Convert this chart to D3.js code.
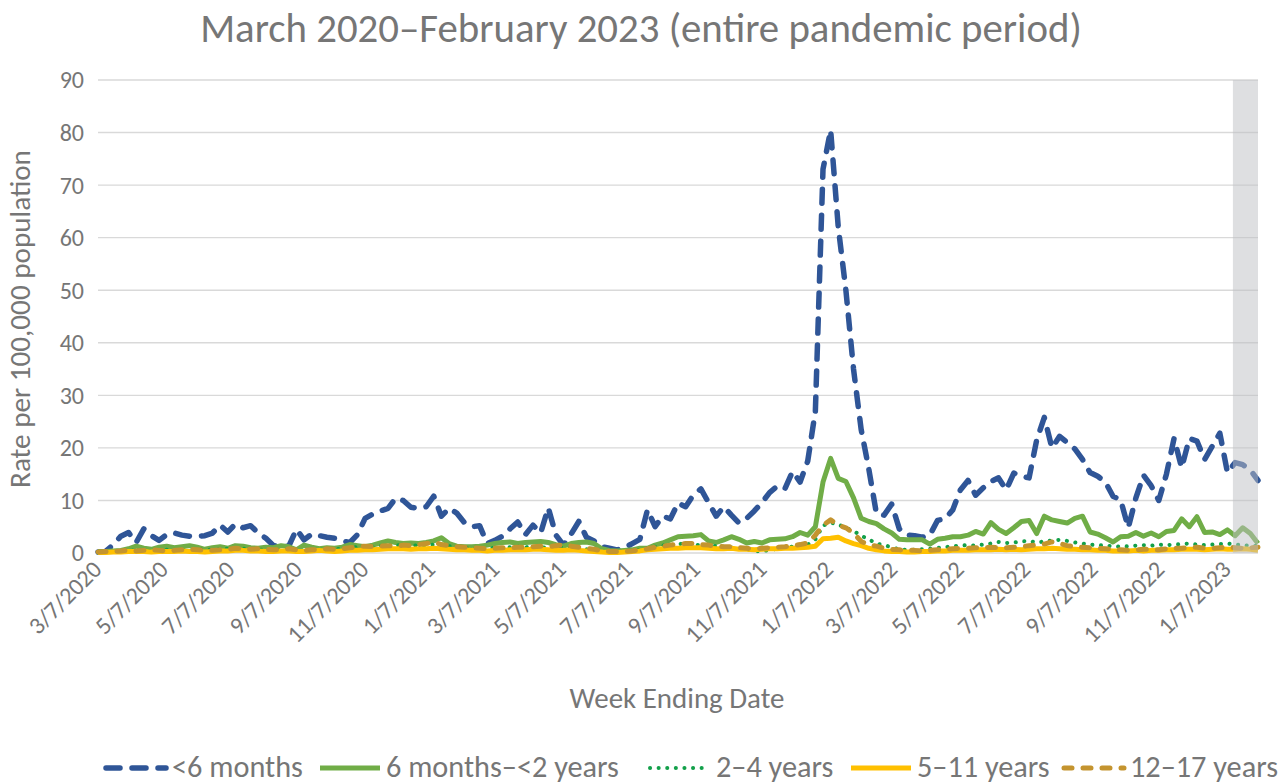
<!DOCTYPE html>
<html>
<head>
<meta charset="utf-8">
<script src="https://cdn.jsdelivr.net/npm/d3@7"></script>
<style>
  body { margin: 0; background: #fff; }
  svg { display: block; }
</style>
</head>
<body>
<div id="chart"></div>
<script>
// weekly rates per 100,000, week ending 3/7/2020 onward
var under6mo = [
  0.2, 0.3, 1.6, 3.2, 3.9, 2.0, 4.6, 3.3, 2.4, 3.5,
  3.8, 3.4, 3.2, 3.2, 3.3, 3.8, 5.3, 4.0, 5.5, 4.8,
  5.2, 3.8, 2.8, 1.4, 1.3, 1.3, 4.5, 2.5, 3.6, 3.3,
  3.0, 2.8, 2.3, 2.0, 3.5, 6.6, 7.4, 8.0, 8.5, 10.4,
  10.0, 8.7, 8.5, 8.8, 10.8, 7.0, 8.5, 7.6, 5.8, 5.0,
  5.2, 1.8, 2.4, 3.2, 4.6, 5.9, 3.5, 5.3, 3.8, 8.6,
  3.4, 1.5, 3.6, 6.0, 3.0, 2.3, 1.2, 0.9, 0.6, 1.0,
  1.8, 2.6, 8.2, 5.0, 7.0, 6.5, 9.5, 8.8, 11.0, 12.2,
  9.6, 7.0, 8.8, 7.2, 5.7, 6.6, 8.0, 9.6, 11.5, 12.7,
  12.2, 15.5, 13.5, 17.5, 27.0, 73.0, 80.5, 62.0, 50.0, 35.0,
  23.5, 16.0, 7.5, 7.2, 9.3, 4.6, 3.4, 3.3, 3.0, 3.4,
  6.2, 6.5, 8.2, 12.0, 13.8, 11.0, 12.4, 13.6, 14.3, 12.0,
  15.2, 14.6, 14.3, 21.5, 25.8, 20.0, 22.2, 21.0, 19.8, 17.8,
  15.3, 14.6, 13.5, 10.8, 10.1, 4.8, 10.5, 14.8, 12.8, 10.0,
  15.0, 21.8, 16.2, 21.8, 21.3, 17.8, 20.3, 22.8, 15.3, 17.2,
  16.8, 15.8, 13.8
];
var sixMoTo2y = [
  0.3, 0.3, 0.4, 0.5, 0.8, 1.3, 0.9, 0.7, 1.1, 1.3,
  1.0, 1.2, 1.4, 1.1, 0.7, 1.0, 1.2, 0.9, 1.4, 1.3,
  1.0, 0.9, 1.1, 1.0, 1.4, 1.2, 0.6, 1.5, 1.1, 0.8,
  1.0, 0.9, 1.1, 1.6, 1.4, 1.2, 1.5, 1.9, 2.3, 2.0,
  1.8, 1.9, 1.8, 2.0, 2.3, 2.9, 1.8, 1.3, 1.2, 1.2,
  1.3, 1.5, 1.8, 2.0, 2.1, 1.8, 2.0, 2.1, 2.2, 2.0,
  1.6, 1.3, 1.8, 2.0, 2.1, 1.8, 0.8, 0.5, 0.4, 0.5,
  0.6, 0.9, 0.9, 1.5, 1.9, 2.5, 3.1, 3.2, 3.3, 3.5,
  2.3, 2.0, 2.5, 3.1, 2.6, 1.9, 2.2, 1.9, 2.5, 2.6,
  2.7, 3.1, 3.9, 3.4, 5.0, 13.5, 18.0, 14.2, 13.6, 10.5,
  6.6, 6.0, 5.6, 4.6, 3.8, 2.6, 2.5, 2.5, 2.5, 1.7,
  2.6, 2.8, 3.1, 3.1, 3.4, 4.1, 3.6, 5.8, 4.5, 3.7,
  4.8, 6.0, 6.2, 3.7, 7.0, 6.3, 6.0, 5.7, 6.6, 7.0,
  4.0, 3.6, 2.9, 2.1, 3.1, 3.2, 3.9, 3.2, 3.8, 3.1,
  4.1, 4.3, 6.5, 5.0, 6.9, 3.9, 4.0, 3.5, 4.4, 3.3,
  4.8, 3.7, 1.8
];
var twoTo4y = [
  0.1, 0.2, 0.2, 0.3, 0.4, 0.5, 0.4, 0.4, 0.5, 0.6,
  0.5, 0.5, 0.6, 0.7, 0.6, 0.6, 0.7, 0.8, 0.9, 0.8,
  0.7, 0.6, 0.6, 0.5, 0.6, 0.7, 0.5, 0.4, 0.5, 0.6,
  0.6, 0.7, 0.8, 1.0, 1.1, 1.2, 1.1, 1.3, 1.4, 1.5,
  1.4, 1.3, 1.5, 1.4, 1.6, 1.5, 1.3, 1.1, 1.0, 0.9,
  0.8, 0.9, 1.0, 1.0, 1.1, 1.2, 1.1, 1.2, 1.1, 1.0,
  1.1, 1.0, 0.9, 0.8, 0.7, 0.5, 0.3, 0.2, 0.2, 0.3,
  0.4, 0.6, 0.9, 1.2, 1.4, 1.5, 1.7, 1.8, 1.6, 1.5,
  1.4, 1.3, 1.2, 1.0, 0.8, 0.7, 0.4, 0.3, 0.6, 0.8,
  1.0, 1.2, 1.4, 1.6, 2.6, 5.2, 5.8, 5.4, 4.8, 4.2,
  3.3, 2.6, 1.8, 1.5, 1.1, 0.7, 0.6, 0.6, 0.7, 0.8,
  1.0, 1.1, 1.3, 1.4, 1.5, 1.4, 1.6, 1.8, 2.1, 1.9,
  2.0, 2.2, 2.3, 2.0, 2.2, 2.4, 2.5, 2.3, 2.0, 1.8,
  1.6, 1.5, 1.4, 1.3, 1.2, 1.3, 1.4, 1.5, 1.4, 1.6,
  1.5, 1.6, 1.7, 1.8, 1.6, 1.5, 1.6, 1.7, 1.8, 1.6,
  1.5, 1.4, 1.3
];
var fiveTo11y = [
  0.1, 0.1, 0.2, 0.2, 0.3, 0.3, 0.3, 0.2, 0.3, 0.3,
  0.3, 0.4, 0.3, 0.3, 0.2, 0.3, 0.4, 0.4, 0.5, 0.5,
  0.4, 0.4, 0.3, 0.3, 0.4, 0.4, 0.3, 0.3, 0.4, 0.5,
  0.4, 0.3, 0.4, 0.5, 0.5, 0.6, 0.6, 0.7, 0.8, 0.8,
  0.8, 0.7, 0.8, 0.8, 0.9, 0.8, 0.7, 0.6, 0.6, 0.5,
  0.5, 0.4, 0.5, 0.5, 0.6, 0.6, 0.6, 0.7, 0.7, 0.6,
  0.5, 0.5, 0.6, 0.5, 0.4, 0.3, 0.2, 0.1, 0.1, 0.2,
  0.3, 0.4, 0.6, 0.7, 0.8, 0.9, 0.9, 1.0, 1.0, 1.0,
  0.9, 0.8, 0.8, 0.9, 0.7, 0.7, 0.6, 0.7, 0.8, 0.8,
  0.9, 0.9, 1.0, 1.1, 1.3, 2.7, 2.8, 3.0, 2.3, 1.8,
  1.4, 0.9, 0.6, 0.4, 0.3, 0.3, 0.2, 0.2, 0.3, 0.3,
  0.4, 0.4, 0.5, 0.5, 0.5, 0.6, 0.6, 0.6, 0.7, 0.6,
  0.7, 0.6, 0.7, 0.8, 0.8, 0.9, 0.8, 0.7, 0.7, 0.6,
  0.6, 0.5, 0.5, 0.4, 0.4, 0.4, 0.5, 0.4, 0.5, 0.5,
  0.6, 0.6, 0.7, 0.7, 0.7, 0.6, 0.7, 0.8, 0.7, 0.7,
  0.8, 0.7, 0.5
];
var twelveTo17y = [
  0.2, 0.3, 0.3, 0.4, 0.5, 0.4, 0.5, 0.6, 0.5, 0.4,
  0.5, 0.6, 0.7, 0.6, 0.5, 0.5, 0.6, 0.7, 0.9, 0.8,
  0.7, 0.8, 0.7, 0.6, 0.7, 0.8, 0.6, 0.5, 0.6, 0.7,
  0.8, 0.7, 0.8, 1.0, 1.2, 1.3, 1.2, 1.3, 1.4, 1.3,
  1.5, 1.4, 1.6, 1.8, 2.1, 1.6, 1.4, 1.2, 1.1, 1.0,
  0.9, 0.8, 0.9, 1.0, 1.0, 1.1, 1.1, 1.2, 1.3, 1.2,
  1.4, 1.5, 1.3, 1.1, 0.9, 0.7, 0.4, 0.3, 0.3, 0.3,
  0.4, 0.6, 0.8, 1.1, 1.3, 1.5, 1.7, 1.8, 1.8, 1.6,
  1.5, 1.3, 1.2, 1.2, 1.0, 0.9, 0.8, 0.9, 1.0, 1.1,
  1.2, 1.4, 1.6, 1.9, 3.4, 5.3, 6.3, 5.3, 4.8, 3.8,
  2.2, 1.6, 1.3, 0.9, 0.7, 0.6, 0.5, 0.5, 0.4, 0.5,
  0.6, 0.7, 0.8, 0.9, 0.9, 1.0, 1.0, 1.1, 1.0, 1.0,
  1.1, 1.2, 1.4, 1.5, 1.7, 2.1, 1.8, 1.4, 1.2, 1.1,
  1.0, 0.9, 0.8, 0.7, 0.6, 0.5, 0.6, 0.7, 0.7, 0.6,
  0.8, 0.9, 0.9, 1.0, 1.1, 0.9, 0.9, 1.0, 1.1, 1.0,
  0.9, 1.0, 1.1
];

var seriesNames = ["<6 months", "6 months\u2013<2 years", "2\u20134 years", "5\u201311 years", "12\u201317 years"];
var tickLabels = ["3/7/2020", "5/7/2020", "7/7/2020", "9/7/2020", "11/7/2020",
  "1/7/2021", "3/7/2021", "5/7/2021", "7/7/2021", "9/7/2021", "11/7/2021",
  "1/7/2022", "3/7/2022", "5/7/2022", "7/7/2022", "9/7/2022", "11/7/2022", "1/7/2023"];
var yTicks = [0, 10, 20, 30, 40, 50, 60, 70, 80, 90];
var firstWeek = "3/7/2020";
var shadeFrom = "1/12/2023";

var width = 1278, height = 784;
var fontFamily = "Carlito, Calibri, Lato, sans-serif";
var textColor = "#767676";

var parseDate = d3.timeParse("%m/%d/%Y");
var start = parseDate(firstWeek);
var weeks = d3.range(under6mo.length).map(function(i) { return d3.timeDay.offset(start, 7 * i); });

var x = d3.scaleTime()
  .domain([weeks[0], weeks[weeks.length - 1]])
  .range([98, 1258]);
var y = d3.scaleLinear()
  .domain([0, 90])
  .range([553, 80]);

var svg = d3.select("#chart").append("svg")
  .attr("width", width)
  .attr("height", height)
  .style("font-family", fontFamily);

// font size that makes a group of texts span the total width they have in the original
function fitGroup(sels, target) {
  var total = 0;
  sels.forEach(function(s) { total += s.node().getComputedTextLength(); });
  var fs = parseFloat(sels[0].attr("font-size")) * target / total;
  sels.forEach(function(s) { s.attr("font-size", fs.toFixed(2)); });
}

// gridlines
svg.append("g").selectAll("line")
  .data(yTicks)
  .enter().append("line")
  .attr("x1", 98).attr("x2", 1258)
  .attr("y1", function(d) { return y(d); })
  .attr("y2", function(d) { return y(d); })
  .attr("stroke", "#d9d9d9")
  .attr("stroke-width", 1.4);

// y tick labels
svg.append("g").selectAll("text")
  .data(yTicks)
  .enter().append("text")
  .attr("x", 84)
  .attr("y", function(d) { return y(d); })
  .attr("dy", "0.35em")
  .attr("text-anchor", "end")
  .attr("font-size", 24)
  .attr("fill", textColor)
  .text(function(d) { return d; });

// x tick labels, rotated
svg.append("g").selectAll("text")
  .data(tickLabels)
  .enter().append("text")
  .attr("text-anchor", "end")
  .attr("font-size", 24)
  .attr("fill", textColor)
  .attr("transform", function(d) {
    return "translate(" + (x(parseDate(d)) + 5) + ",571) rotate(-45)";
  })
  .text(function(d) { return d; });

// series styles
var styles = [
  { data: under6mo, color: "#2f5597", width: 5.5, dash: "14,12" },
  { data: sixMoTo2y, color: "#70ad47", width: 5, dash: null },
  { data: twoTo4y, color: "#12a04a", width: 4, dash: "0.1,8.5" },
  { data: fiveTo11y, color: "#ffc000", width: 5, dash: null },
  { data: twelveTo17y, color: "#c4942f", width: 5, dash: "8,11" }
];

var line = d3.line()
  .x(function(d, i) { return x(weeks[i]); })
  .y(function(d) { return y(d); });

var lines = svg.append("g");
styles.forEach(function(s) {
  lines.append("path")
    .datum(s.data)
    .attr("d", line)
    .attr("fill", "none")
    .attr("stroke", s.color)
    .attr("stroke-width", s.width)
    .attr("stroke-linecap", s.dash ? "round" : "butt")
    .attr("stroke-linejoin", "round")
    .attr("stroke-dasharray", s.dash);
});

// shaded box over the latest weeks
var shadeX = x(parseDate(shadeFrom));
svg.append("rect")
  .attr("x", shadeX)
  .attr("y", y(90))
  .attr("width", x(weeks[weeks.length - 1]) - shadeX)
  .attr("height", y(0) - y(90))
  .attr("fill", "#bdbfc4")
  .attr("opacity", 0.5);

// title
var title = svg.append("text")
  .attr("x", 641).attr("y", 42)
  .attr("text-anchor", "middle")
  .attr("font-size", 32)
  .attr("fill", textColor)
  .text("March 2020\u2013February 2023 (entire pandemic period)");
fitGroup([title], 882);

// axis titles
var yTitle = svg.append("text")
  .attr("transform", "translate(30,319) rotate(-90)")
  .attr("text-anchor", "middle")
  .attr("font-size", 24)
  .attr("fill", textColor)
  .text("Rate per 100,000 population");
fitGroup([yTitle], 338);

var xTitle = svg.append("text")
  .attr("x", 677).attr("y", 708)
  .attr("text-anchor", "middle")
  .attr("font-size", 24)
  .attr("fill", textColor)
  .text("Week Ending Date");
fitGroup([xTitle], 215);

// legend
var legendX = [106, 320, 650, 851, 1064];
var legend = svg.append("g");
var legendTexts = [];
styles.forEach(function(s, i) {
  legend.append("line")
    .attr("x1", legendX[i]).attr("x2", legendX[i] + 60)
    .attr("y1", 768).attr("y2", 768)
    .attr("stroke", s.color)
    .attr("stroke-width", s.width)
    .attr("stroke-linecap", s.dash ? "round" : "butt")
    .attr("stroke-dasharray", s.dash);
  legendTexts.push(legend.append("text")
    .attr("x", legendX[i] + 66)
    .attr("y", 777)
    .attr("font-size", 24)
    .attr("fill", textColor)
    .text(seriesNames[i]));
});
fitGroup(legendTexts, 762);
</script>
</body>
</html>
